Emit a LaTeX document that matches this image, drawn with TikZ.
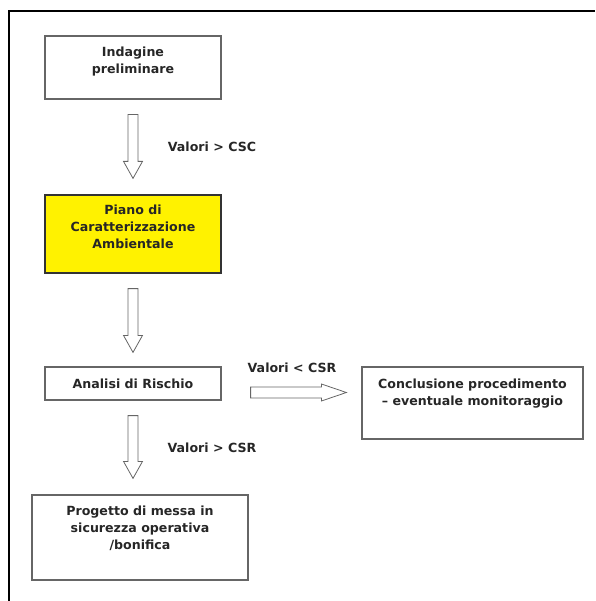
\documentclass[tikz,border=0pt]{standalone}
\usepackage{fontspec}
\setmainfont{DejaVu Sans}
\usetikzlibrary{calc}
\begin{document}
\begin{tikzpicture}[x=1pt,y=-1pt,
  box/.style={draw=black!60, line width=1.2pt, inner sep=0pt},
  ybox/.style={box, draw=black!80, fill=yellow},
  txt/.style={font=\bfseries\fontsize{12.6}{17}\selectfont, align=center, inner sep=0pt, text=black!85},
  blockarrow/.style={draw=black!60, line width=0.8pt, fill=white, line join=miter},
  frame/.style={line width=2pt, black}]
\useasboundingbox (0,0) rectangle (595,601);
% partial frame
\coordinate (fl) at (9,601);
\coordinate (fc) at (9,11);
\coordinate (fr) at (595,11);
\draw[frame] (fl) -- (fc) -- (fr);
% boxes
\node[box, minimum width=176, minimum height=63] (b1) at (133,67.5) {};
\node[txt] (t1) at (133,62) {Indagine\\preliminare};
\node[ybox, minimum width=176, minimum height=78] (b2) at (133,234) {};
\node[txt] (t2) at (133,227) {Piano di\\Caratterizzazione\\Ambientale};
\node[box, minimum width=176, minimum height=33] (b3) at (133,383.5) {};
\node[txt] (t3) at (133,383.5) {Analisi di Rischio};
\node[box, minimum width=221, minimum height=72] (b4) at (472.5,403) {};
\node[txt] (t4) at (472.5,393.5) {Conclusione procedimento\\\textendash{} eventuale monitoraggio};
\node[box, minimum width=216, minimum height=85] (b5) at (140,537.5) {};
\node[txt] (t5) at (140,528.5) {Progetto di messa in\\sicurezza operativa\\/bonifica};
% labels
\node[txt] (l1) at (212,147) {Valori > CSC};
\node[txt] (l2) at (292,368) {Valori < CSR};
\node[txt] (l3) at (212,448) {Valori > CSR};
% vertical block arrows
\newcommand{\vblockarrow}[2]{%
  \draw[blockarrow] let \p1=(#1), \p2=(#2) in
    (\x1-5pt,\y1) -- (\x1-5pt,\y2+17pt) -- (\x1-9.5pt,\y2+17pt) -- (\x1,\y2)
    -- (\x1+9.5pt,\y2+17pt) -- (\x1+5pt,\y2+17pt) -- (\x1+5pt,\y1) -- cycle;}
\coordinate (a1s) at ($(b1.south)+(0,15)$);
\coordinate (a1e) at ($(b2.north)+(0,-16)$);
\vblockarrow{a1s}{a1e}
\coordinate (a2s) at ($(b2.south)+(0,15)$);
\coordinate (a2e) at ($(b3.north)+(0,-14)$);
\vblockarrow{a2s}{a2e}
\coordinate (a3s) at ($(b3.south)+(0,15)$);
\coordinate (a3e) at ($(b5.north)+(0,-16)$);
\vblockarrow{a3s}{a3e}
% horizontal block arrow
\coordinate (a4s) at ($(b3.east)+(29,9)$);
\coordinate (a4e) at ($(b4.west)+(-15,0)$);
\draw[blockarrow] let \p1=(a4s), \p2=(a4e) in
  (\x1,\y1+5.5pt) -- (\x2-25pt,\y1+5.5pt) -- (\x2-25pt,\y1+8.5pt) -- (\x2,\y1)
  -- (\x2-25pt,\y1-8.5pt) -- (\x2-25pt,\y1-5.5pt) -- (\x1,\y1-5.5pt) -- cycle;
\end{tikzpicture}
\end{document}
